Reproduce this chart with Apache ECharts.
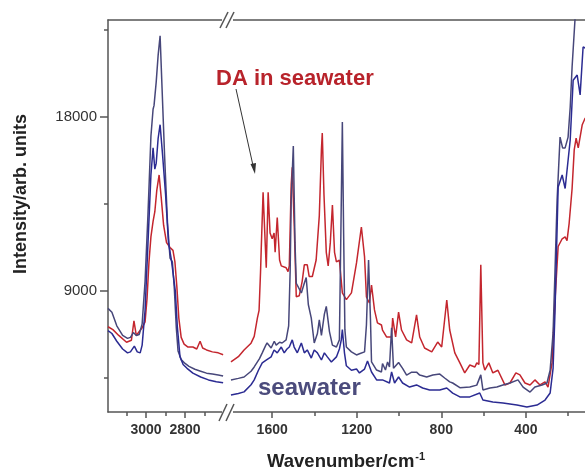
<!DOCTYPE html>
<html>
<head>
<meta charset="utf-8">
<script src="https://cdn.jsdelivr.net/npm/echarts@6/dist/echarts.min.js"></script>
<style>
  html, body { margin: 0; padding: 0; background: #fff; }
  #main { width: 585px; height: 473px; }
</style>
</head>
<body>
<div id="main"></div>
<script>
// axis ranges (broken wavenumber axis: C-H region | fingerprint region)
var yMin = 2740, yMax = 23016;
var chMin = 2580, chMax = 3195;
var fpMin = 120, fpMax = 1809;

// tick values
var yLabelTicks = [9000, 18000];
var yMinorTicks = [4500, 13500, 22500];
var chLabelTicks = [3000, 2800];
var chMinorTicks = [3100, 2900, 2700];
var fpLabelTicks = [1600, 1200, 800, 400];
var fpMinorTicks = [1400, 1000, 600, 200];

// DA in seawater - [wavenumber, intensity]
var daCH = [[3195,7150],[3170,7000],[3140,6700],[3100,6350],[3075,6450],[3062,7450],[3050,6700],[3040,6750],[3020,7100],[3005,7400],[2995,8600],[2985,10500],[2975,11800],[2964,12600],[2955,13100],[2945,14200],[2933,15000],[2922,13800],[2910,12400],[2895,11500],[2877,11250],[2862,11100],[2852,10500],[2842,9200],[2832,7600],[2820,6600],[2805,6250],[2785,6100],[2760,6100],[2740,6000],[2723,6400],[2710,6050],[2690,5950],[2660,5850],[2630,5800],[2605,5700]];
var daFP = [[1795,5330],[1760,5600],[1733,5950],[1700,6300],[1685,6650],[1670,7600],[1662,8000],[1655,10000],[1652,11100],[1643,14100],[1635,12000],[1628,10200],[1619,14100],[1610,12000],[1600,11700],[1591,12000],[1586,11000],[1576,12800],[1565,10600],[1557,10300],[1548,10200],[1534,10200],[1525,10000],[1519,10300],[1510,14500],[1505,15400],[1496,12500],[1486,8700],[1472,8750],[1458,9500],[1448,10350],[1434,10350],[1425,9750],[1410,9750],[1392,10600],[1377,12900],[1367,16300],[1363,17170],[1355,14000],[1344,11000],[1335,10300],[1325,11500],[1315,13450],[1305,11000],[1296,10500],[1282,10600],[1268,8900],[1249,8550],[1225,8900],[1201,10450],[1178,12310],[1163,10760],[1154,8690],[1140,8380],[1130,9310],[1116,8020],[1102,7350],[1083,7240],[1078,6980],[1059,6620],[1035,6620],[1030,7600],[1016,6620],[1002,7910],[988,6980],[964,6470],[940,6310],[917,7760],[902,6620],[879,6050],[845,5850],[817,6360],[798,6100],[774,8535],[760,6980],[736,5800],[712,5280],[689,4760],[665,5170],[641,5070],[632,5280],[622,5200],[613,10350],[603,5280],[594,4910],[575,5280],[556,4760],[532,4900],[499,4140],[475,4240],[447,4760],[428,4660],[404,4240],[380,4140],[357,4400],[333,4140],[309,4300],[295,4030],[276,5280],[262,8500],[247,11300],[228,11700],[214,11800],[205,11600],[195,12500],[181,14300],[171,16300],[162,16900],[152,16400],[143,16500],[133,17600],[119,17950]];

// seawater (upper trace)
var swCH = [[3195,8100],[3175,7900],[3150,7200],[3120,6700],[3095,6550],[3080,6600],[3065,6850],[3050,6700],[3035,6750],[3020,7300],[3005,9500],[2990,13000],[2975,17000],[2964,18400],[2959,18600],[2955,18500],[2948,19800],[2938,21200],[2928,22200],[2918,19500],[2905,16000],[2890,12500],[2877,10700],[2865,10500],[2855,9100],[2845,7100],[2836,5900],[2820,5450],[2800,5250],[2780,5100],[2750,4950],[2720,4850],[2690,4750],[2660,4700],[2630,4650],[2605,4600]];
var swFP = [[1795,4400],[1760,4480],[1733,4550],[1700,4850],[1685,5070],[1660,5500],[1647,5800],[1630,6200],[1624,6310],[1605,6050],[1590,6400],[1581,6200],[1565,6350],[1553,6310],[1534,6470],[1522,7200],[1515,10000],[1510,13700],[1500,16500],[1492,11500],[1486,9400],[1462,8900],[1448,9400],[1439,9700],[1429,8300],[1415,7600],[1401,6310],[1386,6800],[1377,7500],[1367,6700],[1353,7800],[1344,8200],[1329,6900],[1315,6200],[1296,6100],[1282,6470],[1275,12000],[1268,17740],[1262,12000],[1256,7000],[1249,6100],[1225,5850],[1201,5690],[1187,5750],[1178,5690],[1163,5850],[1154,7250],[1144,10600],[1135,7550],[1130,5330],[1106,4910],[1083,4810],[1078,5250],[1064,4910],[1054,5330],[1045,5070],[1035,7100],[1026,5000],[1002,5300],[983,5000],[964,4650],[940,4800],[917,4800],[902,4650],[869,4550],[840,4650],[807,4700],[784,4500],[760,4300],[746,4240],[712,4000],[665,4030],[632,4130],[613,4660],[603,3880],[570,3980],[537,4030],[508,4140],[475,4240],[437,4400],[413,4030],[380,3770],[357,4030],[323,4140],[300,4240],[285,4900],[271,6830],[262,10000],[252,13700],[238,16960],[226,16400],[214,16400],[200,16960],[190,18500],[181,20600],[167,23100],[155,25500]];

// seawater (lower trace)
var bwCH = [[3195,6950],[3175,6800],[3150,6400],[3120,6000],[3095,5800],[3080,5850],[3060,6150],[3045,5850],[3030,5800],[3020,6200],[3005,8000],[2990,11500],[2975,15000],[2964,16400],[2955,15300],[2948,15600],[2938,16900],[2928,17600],[2915,16000],[2900,14000],[2885,11500],[2870,10600],[2862,10500],[2850,9000],[2840,7200],[2826,5600],[2810,5200],[2790,5000],[2760,4750],[2720,4550],[2680,4400],[2640,4300],[2605,4250]];
var bwFP = [[1795,3620],[1760,3700],[1733,3780],[1700,4150],[1685,4400],[1665,4900],[1647,5280],[1625,5450],[1605,5590],[1591,5950],[1576,5800],[1557,6100],[1543,5800],[1530,6000],[1519,6100],[1505,6470],[1496,6100],[1481,5800],[1462,6310],[1448,5800],[1434,5950],[1415,5530],[1401,5950],[1386,5800],[1367,5430],[1353,5800],[1339,5590],[1320,5330],[1296,5590],[1282,6000],[1273,6470],[1268,7000],[1258,5800],[1249,5130],[1225,4900],[1201,4960],[1187,4760],[1163,4960],[1149,5380],[1130,4810],[1106,4400],[1078,4400],[1045,4240],[1035,4810],[1021,4240],[1002,4550],[983,4240],[950,4030],[917,4140],[888,3980],[855,3880],[807,3880],[774,3980],[746,3720],[712,3520],[665,3520],[618,3720],[603,3360],[556,3260],[508,3200],[442,3100],[395,3000],[347,3100],[309,3360],[285,3720],[271,5000],[262,7900],[247,14380],[228,15000],[214,14300],[205,14200],[190,16810],[176,19900],[157,20170],[143,19140],[129,21620],[119,21570]];

var FONT = 'Liberation Sans, Arial, sans-serif';
var AXIS_COLOR = '#555';
var RED = '#c4262e', GRAY = '#47477a', BLUE = '#2b2b92';

var chart = echarts.init(document.getElementById('main'));

// plain numbers, no thousands separator
function plain(v) { return String(v); }

function bottomAxis(grid, min, max, labels) {
    return {
        type: 'value', gridIndex: grid, position: 'bottom', inverse: true,
        min: min, max: max, splitLine: { show: false },
        axisLine: { show: true, lineStyle: { color: AXIS_COLOR, width: 1.5 } },
        axisTick: { show: true, customValues: labels, length: 6, lineStyle: { color: AXIS_COLOR, width: 1.5 } },
        axisLabel: { show: true, customValues: labels, formatter: plain, margin: 11, fontFamily: FONT, fontSize: 14, fontWeight: 'bold', color: '#333' }
    };
}
function minorAxis(grid, min, max, ticks) {
    return {
        type: 'value', gridIndex: grid, position: 'bottom', inverse: true,
        min: min, max: max, splitLine: { show: false },
        axisLine: { show: false },
        axisTick: { show: true, customValues: ticks, length: 4, lineStyle: { color: AXIS_COLOR, width: 1.5 } },
        axisLabel: { show: false }
    };
}
function topAxis(grid, min, max) {
    return {
        type: 'value', gridIndex: grid, position: 'top', inverse: true,
        min: min, max: max, splitLine: { show: false },
        axisLine: { show: true, lineStyle: { color: AXIS_COLOR, width: 1.5 } },
        axisTick: { show: false }, axisLabel: { show: false }
    };
}
function line(name, xi, yi, data, color) {
    return {
        name: name, type: 'line', xAxisIndex: xi, yAxisIndex: yi, data: data,
        showSymbol: false, smooth: false, clip: true,
        lineStyle: { color: color, width: 1.5 }, itemStyle: { color: color }
    };
}

var option = {
    animation: false,
    backgroundColor: '#fff',
    grid: [
        { left: 108, top: 20, width: 120, bottom: 61 },
        { left: 228, top: 20, right: 0, bottom: 61 }
    ],
    xAxis: [
        bottomAxis(0, chMin, chMax, chLabelTicks),
        minorAxis(0, chMin, chMax, chMinorTicks),
        topAxis(0, chMin, chMax),
        bottomAxis(1, fpMin, fpMax, fpLabelTicks),
        minorAxis(1, fpMin, fpMax, fpMinorTicks),
        topAxis(1, fpMin, fpMax)
    ],
    yAxis: [
        {
            type: 'value', gridIndex: 0, position: 'left', min: yMin, max: yMax, splitLine: { show: false },
            axisLine: { show: true, lineStyle: { color: AXIS_COLOR, width: 1.5 } },
            axisTick: { show: true, customValues: yLabelTicks, length: 8, lineStyle: { color: AXIS_COLOR, width: 1.5 } },
            axisLabel: { show: true, customValues: yLabelTicks, formatter: plain, margin: 11, fontFamily: FONT, fontSize: 15, color: '#333' }
        },
        {
            type: 'value', gridIndex: 0, position: 'left', min: yMin, max: yMax, splitLine: { show: false },
            axisLine: { show: false },
            axisTick: { show: true, customValues: yMinorTicks, length: 4, lineStyle: { color: AXIS_COLOR, width: 1.5 } },
            axisLabel: { show: false }
        },
        {
            type: 'value', gridIndex: 1, min: yMin, max: yMax, show: false, splitLine: { show: false }
        }
    ],
    series: [
        line('DA in seawater', 0, 0, daCH, RED),
        line('DA in seawater', 3, 2, daFP, RED),
        line('seawater', 0, 0, swCH, GRAY),
        line('seawater', 3, 2, swFP, GRAY),
        line('seawater 2', 0, 0, bwCH, BLUE),
        line('seawater 2', 3, 2, bwFP, BLUE)
    ],
    graphic: [
        // axis break marks
        { type: 'rect', shape: { x: 222, y: 15, width: 11, height: 10 }, style: { fill: '#fff' }, z: 100 },
        { type: 'rect', shape: { x: 222, y: 407, width: 11, height: 10 }, style: { fill: '#fff' }, z: 100 },
        { type: 'line', shape: { x1: 220, y1: 28, x2: 228, y2: 12 }, style: { stroke: AXIS_COLOR, lineWidth: 1.5 }, z: 101 },
        { type: 'line', shape: { x1: 226, y1: 28, x2: 234, y2: 12 }, style: { stroke: AXIS_COLOR, lineWidth: 1.5 }, z: 101 },
        { type: 'line', shape: { x1: 219, y1: 421, x2: 227, y2: 404 }, style: { stroke: AXIS_COLOR, lineWidth: 1.5 }, z: 101 },
        { type: 'line', shape: { x1: 226, y1: 421, x2: 234, y2: 404 }, style: { stroke: AXIS_COLOR, lineWidth: 1.5 }, z: 101 },
        // annotations
        { type: 'text', left: 216, top: 68, z: 102,
          style: { text: 'DA in seawater', fill: '#b8232b', font: 'bold 22px ' + FONT } },
        { type: 'line', shape: { x1: 236, y1: 89, x2: 254, y2: 170 }, style: { stroke: '#333', lineWidth: 1 }, z: 102 },
        { type: 'polygon', shape: { points: [[255, 174], [250.5, 164], [256, 163]] }, style: { fill: '#333' }, z: 102 },
        { type: 'text', left: 258, top: 376, z: 102,
          style: { text: 'seawater', fill: '#4b4b7c', font: 'bold 24px ' + FONT } },
        // axis titles
        { type: 'text', x: 12, y: 194, rotation: Math.PI / 2, z: 102,
          style: { text: 'Intensity/arb. units', fill: '#222', font: 'bold 18px ' + FONT, align: 'center', verticalAlign: 'top' } },
        { type: 'text', left: 267, top: 451, z: 102,
          style: {
              text: '{a|Wavenumber/cm}{b|-1}',
              rich: {
                  a: { fill: '#222', fontSize: 18.5, fontWeight: 'bold', fontFamily: FONT },
                  b: { fill: '#222', fontSize: 11, fontWeight: 'bold', fontFamily: FONT, verticalAlign: 'top', padding: [0, 0, 10, 1] }
              }
          } }
    ]
};

chart.setOption(option);
</script>
</body>
</html>
